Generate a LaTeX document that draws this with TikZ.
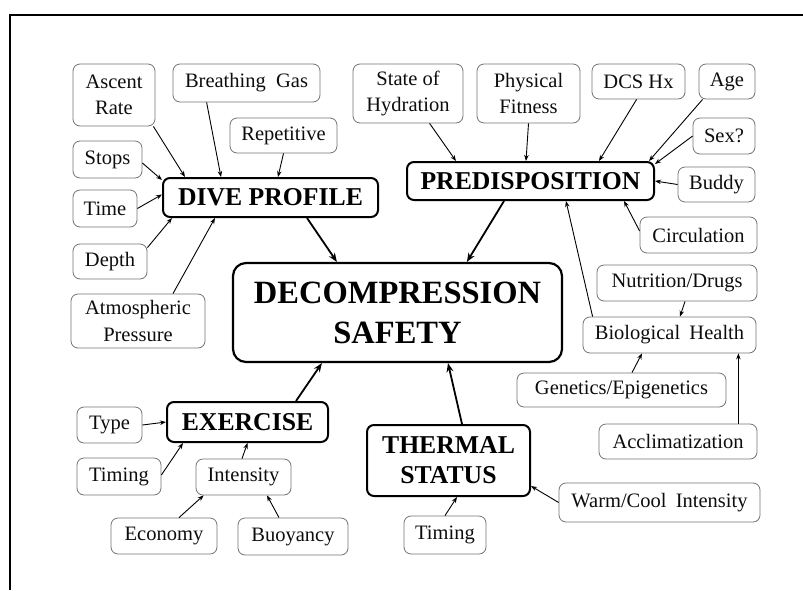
\documentclass[tikz,border=0pt]{standalone}
\usepackage{fontspec}
\setmainfont{Liberation Serif}
\usetikzlibrary{arrows.meta}
\begin{document}
\begin{tikzpicture}[x=1pt,y=-1pt,
  small/.style={draw=black!55, line width=0.8pt, rounded corners=7pt, inner sep=0pt, align=center,
    text=black!95, font=\fontsize{20.5}{26.5}\selectfont},
  mainbox/.style={draw=black, line width=2pt, rounded corners=7pt, inner sep=0pt, align=center,
    font=\bfseries\fontsize{25.7}{30}\selectfont},
  bigbox/.style={draw=black, line width=2.2pt, rounded corners=13pt, inner sep=0pt, align=center,
    font=\bfseries\fontsize{32.5}{40}\selectfont},
  thin/.style={line width=0.9pt, -{Stealth[length=6pt,width=4.5pt]}},
  thick/.style={line width=1.8pt, -{Stealth[length=9pt,width=7pt]}},
  frame/.style={line width=2pt}
]
\useasboundingbox (0,0) rectangle (803,590);
\draw[frame] (10,590) -- (10,15) -- (803,15);

% central
\node[bigbox, minimum width=329, minimum height=99] (dec) at (397.5,312.5) {DECOMPRESSION\\SAFETY};

% main factors
\node[mainbox, minimum width=215, minimum height=39] (dp) at (270.5,197.5) {DIVE PROFILE};
\node[mainbox, minimum width=247, minimum height=38] (pred) at (530.5,181) {PREDISPOSITION};
\node[mainbox, minimum width=161, minimum height=40] (ex) at (247.5,422) {EXERCISE};
\node[mainbox, minimum width=163, minimum height=71] (therm) at (448.5,460.5) {THERMAL\\STATUS};

% dive profile leaves
\node[small, minimum width=82, minimum height=62] (ascent) at (114,95) {Ascent\\Rate};
\node[small, minimum width=147, minimum height=38] (breath) at (246.5,83) {Breathing\hspace{0.5em}Gas};
\node[small, minimum width=107, minimum height=35] (rep) at (283.5,135.5) {Repetitive};
\node[small, minimum width=69, minimum height=37] (stops) at (107.5,159.5) {Stops};
\node[small, minimum width=64, minimum height=37] (time) at (105,208.5) {Time};
\node[small, minimum width=74, minimum height=35] (depth) at (110,261.5) {Depth};
\node[small, minimum width=134, minimum height=54] (atm) at (138,321) {Atmospheric\\Pressure};

% predisposition leaves
\node[small, minimum width=110, minimum height=59] (hyd) at (408,93.5) {State of\\Hydration};
\node[small, minimum width=103, minimum height=59] (fit) at (528.5,93.5) {Physical\\Fitness};
\node[small, minimum width=93, minimum height=35] (dcs) at (638.5,81.5) {DCS Hx};
\node[small, minimum width=56, minimum height=35] (age) at (727,81.5) {Age};
\node[small, minimum width=62, minimum height=36] (sex) at (724,136) {Sex?};
\node[small, minimum width=77, minimum height=35] (buddy) at (716.5,184.5) {Buddy};
\node[small, minimum width=117, minimum height=36] (circ) at (698.5,235) {Circulation};
\node[small, minimum width=160, minimum height=36] (nutr) at (677,283) {Nutrition/Drugs};
\node[small, minimum width=173, minimum height=36] (bio) at (669.5,335) {Biological\hspace{0.45em}Health};
\node[small, minimum width=209, minimum height=34] (gen) at (621.5,390) {Genetics/Epigenetics};
\node[small, minimum width=158, minimum height=35] (accl) at (678,441.5) {Acclimatization};

% thermal leaves
\node[small, minimum width=201, minimum height=39] (warm) at (659.5,502.5) {Warm/Cool\hspace{0.45em}Intensity};
\node[small, minimum width=82, minimum height=38] (ttim) at (445,535) {Timing};

% exercise leaves
\node[small, minimum width=65, minimum height=36] (type) at (109.5,425) {Type};
\node[small, minimum width=84, minimum height=37] (etim) at (119,476.5) {Timing};
\node[small, minimum width=95, minimum height=36] (inten) at (243.5,477) {Intensity};
\node[small, minimum width=106, minimum height=36] (econ) at (164,536) {Economy};
\node[small, minimum width=110, minimum height=37] (buoy) at (293,536.5) {Buoyancy};

% connectors: dive profile
\draw[thin] ([xshift=-2pt]ascent.south east) -- ([xshift=23pt]dp.north west);
\draw[thin] ([xshift=34pt]breath.south west) -- ([xshift=59pt]dp.north west);
\draw[thin] (rep.south) -- ([xshift=116pt]dp.north west);
\draw[thin] ([yshift=-3.5pt]stops.east) -- ([yshift=-3pt]dp.north west);
\draw[thin] (time.east) -- ([yshift=3pt]dp.west);
\draw[thin] ([yshift=-4pt]depth.north east) -- ([xshift=10pt]dp.south west);
\draw[thin] ([xshift=35pt]atm.north) -- ([xshift=53pt]dp.south west);

% connectors: predisposition
\draw[thin] ([xshift=77pt]hyd.south west) -- ([xshift=50pt]pred.north west);
\draw[thin] (fit.south) -- ([xshift=120pt]pred.north west);
\draw[thin] ([xshift=45pt]dcs.south west) -- ([xshift=193pt]pred.north west);
\draw[thin] ([xshift=4pt]age.south west) -- ([xshift=-6pt]pred.north east);
\draw[thin] (sex.west) -- ([yshift=-3pt]pred.north east);
\draw[thin] (buddy.west) -- (pred.east);
\draw[thin] ([yshift=4pt]circ.west) -- ([xshift=-31pt]pred.south east);
\draw[thin] ([xshift=10pt]bio.north west) -- ([xshift=160pt]pred.south west);
\draw[thin] ([xshift=8pt]nutr.south) -- ([xshift=10.5pt]bio.north);
\draw[thin] ([xshift=10.5pt]gen.north) -- ([xshift=-27.5pt]bio.south);
\draw[thin] ([xshift=-19pt]accl.north east) -- ([xshift=-18pt]bio.south east);

% connectors: thermal
\draw[thin] (warm.west) -- ([yshift=11pt]therm.south east);
\draw[thin] (ttim.north) -- ([xshift=8.5pt]therm.south);

% connectors: exercise
\draw[thin] (type.east) -- (ex.west);
\draw[thin] ([yshift=1.5pt]etim.east) -- ([xshift=17pt]ex.south west);
\draw[thin] ([xshift=-1.5pt]inten.north) -- (ex.south);
\draw[thin] ([xshift=15pt]econ.north) -- ([xshift=8pt]inten.south west);
\draw[thin] ([xshift=-14pt]buoy.north) -- ([xshift=23.5pt]inten.south);

% main connectors
\draw[thick] ([xshift=145pt]dp.south west) -- ([xshift=105pt]dec.north west);
\draw[thick] ([xshift=98pt]pred.south west) -- ([xshift=235pt]dec.north west);
\draw[thick] ([xshift=13.5pt]therm.north) -- ([xshift=50.5pt]dec.south);
\draw[thick] ([xshift=-33pt]ex.north east) -- ([xshift=90pt]dec.south west);
\end{tikzpicture}
\end{document}
